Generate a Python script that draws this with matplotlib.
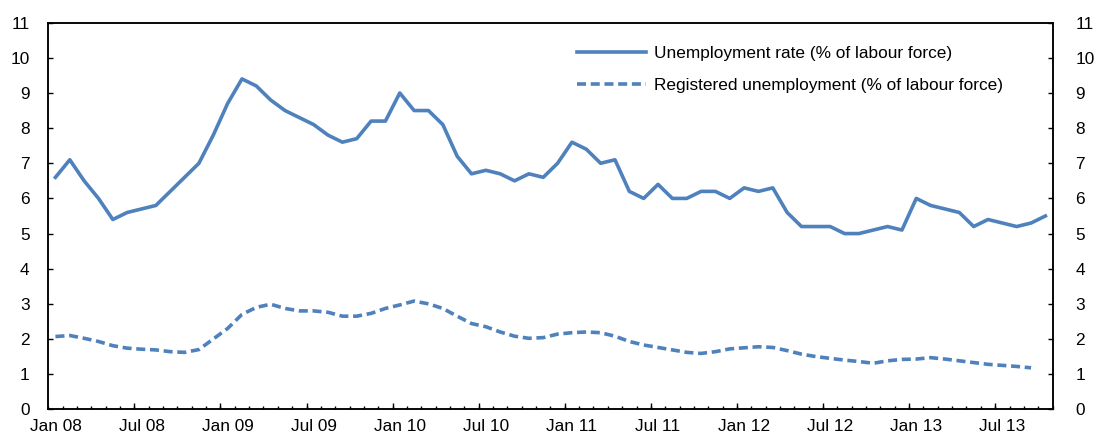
import numpy as np
import pandas as pd
import matplotlib
matplotlib.use("Agg")
import matplotlib.pyplot as plt

# monthly data, Jan 2008 - Oct 2013
months = pd.date_range("2008-01-01", periods=70, freq="MS")
month_labels = [m.strftime("%b %y") for m in months]

unemployment_rate = [
    6.6, 7.1, 6.5, 6.0, 5.4, 5.6, 5.7, 5.8, 6.2, 6.6,
    7.0, 7.8, 8.7, 9.4, 9.2, 8.8, 8.5, 8.3, 8.1, 7.8,
    7.6, 7.7, 8.2, 8.2, 9.0, 8.5, 8.5, 8.1, 7.2, 6.7,
    6.8, 6.7, 6.5, 6.7, 6.6, 7.0, 7.6, 7.4, 7.0, 7.1,
    6.2, 6.0, 6.4, 6.0, 6.0, 6.2, 6.2, 6.0, 6.3, 6.2,
    6.3, 5.6, 5.2, 5.2, 5.2, 5.0, 5.0, 5.1, 5.2, 5.1,
    6.0, 5.8, 5.7, 5.6, 5.2, 5.4, 5.3, 5.2, 5.3, 5.5,
]

registered_unemployment = [
    2.07, 2.10, 2.02, 1.93, 1.81, 1.74, 1.71, 1.69, 1.64, 1.62,
    1.70, 2.00, 2.30, 2.70, 2.90, 2.99, 2.87, 2.80, 2.80, 2.76,
    2.65, 2.65, 2.73, 2.87, 2.97, 3.08, 3.00, 2.87, 2.65, 2.44,
    2.35, 2.20, 2.08, 2.02, 2.04, 2.14, 2.18, 2.20, 2.18, 2.08,
    1.93, 1.83, 1.76, 1.69, 1.62, 1.59, 1.64, 1.72, 1.75, 1.78,
    1.76, 1.67, 1.57, 1.50, 1.45, 1.40, 1.36, 1.31, 1.38, 1.42,
    1.43, 1.47, 1.43, 1.38, 1.33, 1.28, 1.25, 1.22, 1.18,
]

label_rate = "Unemployment rate (% of labour force)"
label_reg = "Registered unemployment (% of labour force)"

plt.rcParams["font.family"] = ["Liberation Sans", "DejaVu Sans"]
plt.rcParams["font.size"] = 12.4

color = "#4F81BD"
n = len(months)

fig = plt.figure(figsize=(10.97, 4.36), dpi=100)
ax = fig.add_axes([0.044, 0.0612, 0.9155, 0.8868])

x = np.arange(n)
ax.plot(x, unemployment_rate, color=color, lw=2.6, label=label_rate)
ax.plot(x[:len(registered_unemployment)], registered_unemployment, color=color,
        lw=2.6, dashes=(2.5, 1.3), dash_capstyle="butt", label=label_reg)

ax.set_xlim(-0.5, n - 0.5)
ax.set_ylim(0, 11)

# y axis, both sides
yticks = np.arange(0, 12)
ax.set_yticks(yticks)
ax.tick_params(axis="y", direction="in", length=3.6, width=1, pad=13.5)
ax2 = ax.twinx()
ax2.set_ylim(0, 11)
ax2.set_yticks(yticks)
ax2.tick_params(axis="y", direction="in", length=3.6, width=1, pad=16.5)

# x axis: labels every 6 months, small ticks between months, long ticks every 6
ax.set_xticks(x[::6])
ax.set_xticklabels(month_labels[::6])
ax.set_xticks(np.arange(-0.5, n, 1), minor=True)
ax.tick_params(axis="x", which="major", length=0, pad=7)
ax.tick_params(axis="x", which="minor", direction="in", length=2.3, width=1)
sec = ax.secondary_xaxis("bottom")
sec.set_xticks(np.arange(5.5, n, 6))
sec.tick_params(axis="x", direction="in", length=4.5, width=1, labelbottom=False)
sec.spines["bottom"].set_visible(False)

for a in (ax, ax2):
    for s in a.spines.values():
        s.set_linewidth(1.1)

ax.legend(loc="upper left", bbox_to_anchor=(577 / 1097, 1 - 46 / 436),
          bbox_transform=fig.transFigure, frameon=False, borderpad=0,
          borderaxespad=0, handlelength=4.0, handletextpad=0.45,
          labelspacing=1.0, fontsize=12.4)

fig.savefig("out.png", dpi=100)
